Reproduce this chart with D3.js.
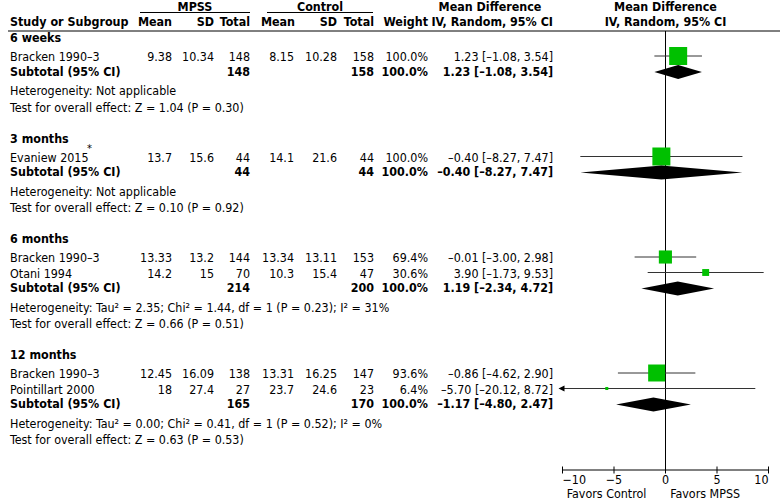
<!DOCTYPE html>
<html><head><meta charset="utf-8">
<script src="https://cdn.jsdelivr.net/npm/d3@7"></script>
<style>body{margin:0;background:#fff}svg{display:block}text{font-family:"DejaVu Sans Condensed","DejaVu Sans",sans-serif;font-stretch:condensed;font-size:12.4px;fill:#000}</style>
</head><body><svg id="c" width="780" height="500"></svg>
<script>
// ---- data ----
const groups = ["6 weeks", "3 months", "6 months", "12 months"];
const studyNames = ["Bracken 1990–3", "Evaniew 2015", "Bracken 1990–3", "Otani 1994", "Bracken 1990–3", "Pointillart 2000"];
const studyGroup = [0, 1, 2, 2, 3, 3];
const mpssMean = ["9.38", "13.7", "13.33", "14.2", "12.45", "18"];
const mpssSD = ["10.34", "15.6", "13.2", "15", "16.09", "27.4"];
const mpssN = [148, 44, 144, 70, 138, 27];
const ctrlMean = ["8.15", "14.1", "13.34", "10.3", "13.31", "23.7"];
const ctrlSD = ["10.28", "21.6", "13.11", "15.4", "16.25", "24.6"];
const ctrlN = [158, 44, 153, 47, 147, 23];
const studyWeight = [100.0, 100.0, 69.4, 30.6, 93.6, 6.4];
const studyMD = [1.23, -0.40, -0.01, 3.90, -0.86, -5.70];
const studyLow = [-1.08, -8.27, -3.00, -1.73, -4.62, -20.12];
const studyHigh = [3.54, 7.47, 2.98, 9.53, 2.90, 8.72];
const subN1 = [148, 44, 214, 165];
const subN2 = [158, 44, 200, 170];
const subMD = [1.23, -0.40, 1.19, -1.17];
const subLow = [-1.08, -8.27, -2.34, -4.80];
const subHigh = [3.54, 7.47, 4.72, 2.47];
const heterogeneity = [
  "Heterogeneity: Not applicable",
  "Heterogeneity: Not applicable",
  "Heterogeneity: Tau² = 2.35; Chi² = 1.44, df = 1 (P = 0.23); I² = 31%",
  "Heterogeneity: Tau² = 0.00; Chi² = 0.41, df = 1 (P = 0.52); I² = 0%"
];
const overallTest = [
  "Test for overall effect: Z = 1.04 (P = 0.30)",
  "Test for overall effect: Z = 0.10 (P = 0.92)",
  "Test for overall effect: Z = 0.66 (P = 0.51)",
  "Test for overall effect: Z = 0.63 (P = 0.53)"
];
const axisTicks = [-10, -5, 0, 5, 10];
const footLeft = "Favors Control";
const footRight = "Favors MPSS";

// ---- drawing ----
const svg = d3.select("#c");
const x = d3.scaleLinear().domain([-10, 10]).range([562.5, 768.5]);
const fmt = v => (v < 0 ? "–" : "") + Math.abs(v).toFixed(2);
const ciText = (m, l, h) => `${fmt(m)} [${fmt(l)}, ${fmt(h)}]`;
const sizeScale = d3.scaleLinear().domain([0, 100]).range([2, 18]);

function txt(xp, yp, s, opt = {}) {
  return svg.append("text").attr("x", xp).attr("y", yp).attr("dy", "0.35em")
    .attr("text-anchor", opt.anchor || "start")
    .attr("font-weight", opt.bold ? "bold" : "normal").text(s);
}

const col = {label: 10, m1: 172, sd1: 214, n1: 250, m2: 294, sd2: 337, n2: 374, w: 428, ci: 553};

// header
txt(195, 6.5, "MPSS", {anchor: "middle", bold: true});
txt(320, 6.5, "Control", {anchor: "middle", bold: true});
svg.append("line").attr("x1", 140).attr("x2", 250).attr("y1", 12.5).attr("y2", 12.5).attr("stroke", "#000");
svg.append("line").attr("x1", 267).attr("x2", 373).attr("y1", 12.5).attr("y2", 12.5).attr("stroke", "#000");
txt(col.label, 22, "Study or Subgroup", {bold: true});
txt(col.m1, 22, "Mean", {anchor: "end", bold: true});
txt(col.sd1, 22, "SD", {anchor: "end", bold: true});
txt(col.n1, 22, "Total", {anchor: "end", bold: true});
txt(col.m2 + 1, 22, "Mean", {anchor: "end", bold: true});
txt(col.sd2, 22, "SD", {anchor: "end", bold: true});
txt(col.n2, 22, "Total", {anchor: "end", bold: true});
txt(col.w, 22, "Weight", {anchor: "end", bold: true});
txt(490, 6.5, "Mean Difference", {anchor: "middle", bold: true});
txt(col.ci, 22, "IV, Random, 95% CI", {anchor: "end", bold: true});
txt(x(0), 6.5, "Mean Difference", {anchor: "middle", bold: true});
txt(x(0), 22, "IV, Random, 95% CI", {anchor: "middle", bold: true});
svg.append("line").attr("x1", 8).attr("x2", 780).attr("y1", 31).attr("y2", 31).attr("stroke", "#000");

// zero line
svg.append("line").attr("x1", x(0)).attr("x2", x(0)).attr("y1", 31).attr("y2", 470).attr("stroke", "#000");

const marks = svg.append("g");
let y = 38;
groups.forEach((g, gi) => {
  txt(col.label, y, g, {bold: true});
  y += 19;
  const idx = studyGroup.map((v, i) => v === gi ? i : -1).filter(i => i >= 0);
  idx.forEach((i, k) => {
    if (k > 0) y += 15.5;
    txt(col.label, y, studyNames[i]);
    if (studyNames[i] === "Evaniew 2015") {
      svg.append("text").attr("x", 87).attr("y", y - 9).attr("dy", "0.35em").style("font-size", "11px").text("*");
    }
    txt(col.m1, y, mpssMean[i], {anchor: "end"});
    txt(col.sd1, y, mpssSD[i], {anchor: "end"});
    txt(col.n1, y, mpssN[i], {anchor: "end"});
    txt(col.m2, y, ctrlMean[i], {anchor: "end"});
    txt(col.sd2, y, ctrlSD[i], {anchor: "end"});
    txt(col.n2, y, ctrlN[i], {anchor: "end"});
    txt(col.w, y, studyWeight[i].toFixed(1) + "%", {anchor: "end"});
    txt(col.ci, y, ciText(studyMD[i], studyLow[i], studyHigh[i]), {anchor: "end"});
    const my = y - 1;
    const lo = Math.max(studyLow[i], -10), hi = Math.min(studyHigh[i], 10);
    marks.append("line").attr("x1", x(lo)).attr("x2", x(hi)).attr("y1", my).attr("y2", my)
      .attr("stroke", "#333").attr("stroke-width", 1);
    if (studyLow[i] < -10) {
      marks.append("path").attr("d", `M${x(-10) - 4},${my} L${x(-10) + 2},${my - 3} L${x(-10) + 2},${my + 3} Z`).attr("fill", "#000");
    }
    if (studyHigh[i] > 10) {
      marks.append("path").attr("d", `M${x(10) + 4},${my} L${x(10) - 2},${my - 3} L${x(10) - 2},${my + 3} Z`).attr("fill", "#000");
    }
    const s = sizeScale(studyWeight[i]);
    marks.append("rect").attr("x", x(studyMD[i]) - s / 2).attr("y", my - s / 2)
      .attr("width", s).attr("height", s).attr("fill", "#00c000");
  });
  y += 14.5;
  txt(col.label, y, "Subtotal (95% CI)", {bold: true});
  txt(col.n1, y, subN1[gi], {anchor: "end", bold: true});
  txt(col.n2, y, subN2[gi], {anchor: "end", bold: true});
  txt(col.w, y, "100.0%", {anchor: "end", bold: true});
  txt(col.ci, y, ciText(subMD[gi], subLow[gi], subHigh[gi]), {anchor: "end", bold: true});
  const dy = y + 0.5;
  marks.append("path")
    .attr("d", `M${x(subLow[gi])},${dy} L${x(subMD[gi])},${dy - 7} L${x(subHigh[gi])},${dy} L${x(subMD[gi])},${dy + 7} Z`)
    .attr("fill", "#000");
  y += 19.5;
  txt(col.label, y, heterogeneity[gi]);
  y += 16.5;
  txt(col.label, y, overallTest[gi]);
  y += 31;
});

// axis
const ax = svg.append("g").attr("transform", "translate(0,470)");
ax.append("line").attr("x1", x(-10)).attr("x2", x(10)).attr("stroke", "#000");
ax.selectAll("line.t").data(axisTicks).enter().append("line").attr("class", "t")
  .attr("x1", d => x(d)).attr("x2", d => x(d)).attr("y1", -3.5).attr("y2", 3.5).attr("stroke", "#000");
const last = axisTicks.length - 1;
ax.selectAll("text.t").data(axisTicks).enter().append("text").attr("class", "t")
  .attr("x", d => x(d)).attr("y", 10).attr("dy", "0.35em")
  .attr("text-anchor", (d, i) => i === 0 ? "start" : i === last ? "end" : "middle")
  .text(d => (d < 0 ? "−" : "") + Math.abs(d));
txt(x(-1.85), 493.5, footLeft, {anchor: "end"});
txt(x(0.45), 493.5, footRight, {anchor: "start"});
</script></body></html>
